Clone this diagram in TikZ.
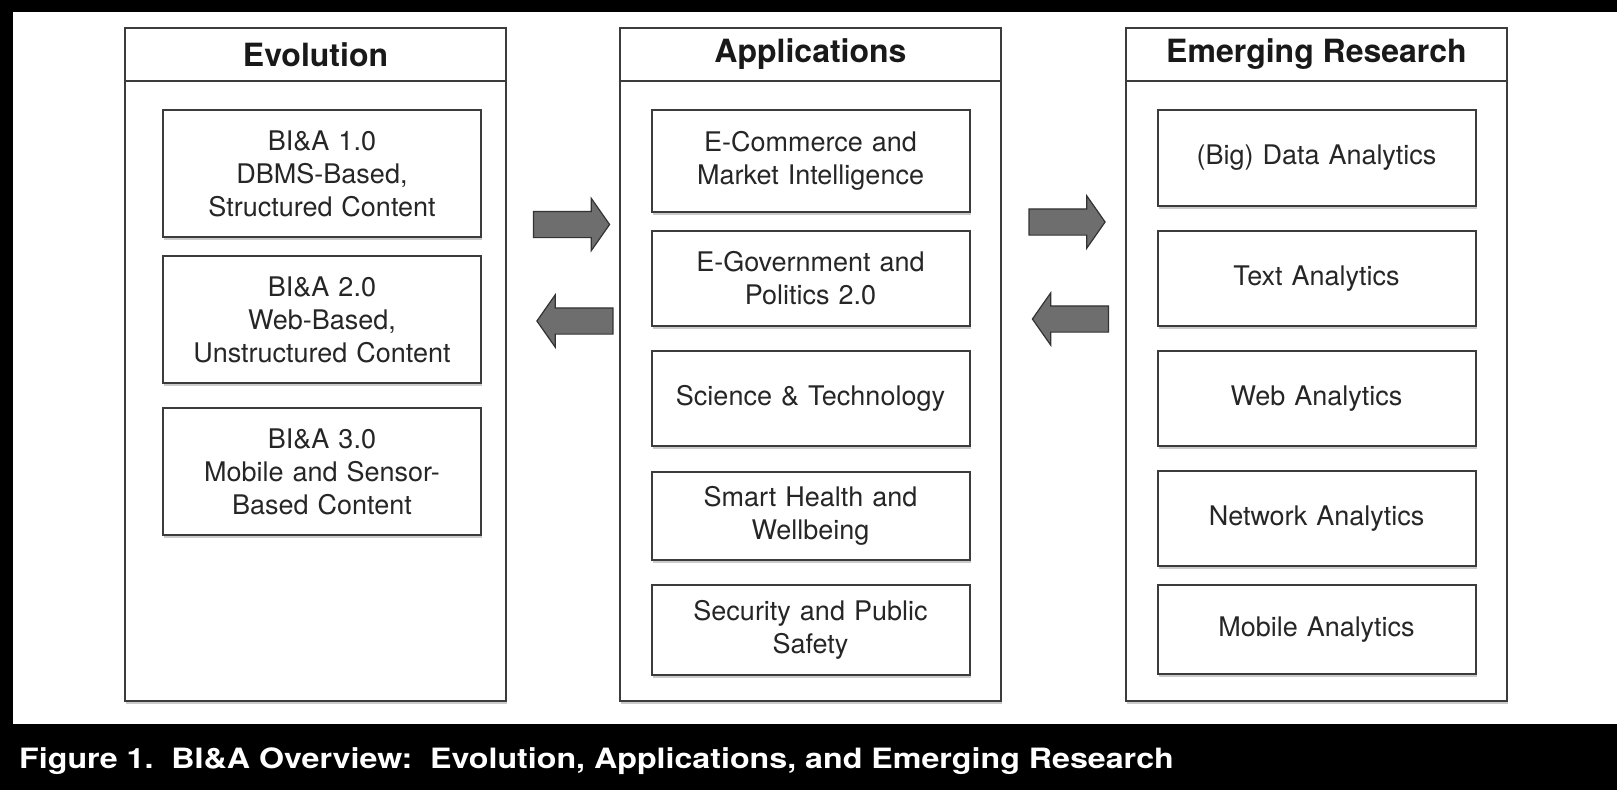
\documentclass[tikz,border=0pt]{standalone}
\usepackage{fontspec}
\setmainfont{TeX Gyre Heros}
\newfontfamily\capfont[FakeStretch=1.15]{TeX Gyre Heros}
\usetikzlibrary{shapes.arrows,shadows}

\definecolor{boxline}{HTML}{3C3C3C}
\definecolor{arrowfill}{HTML}{6E6E6E}

\tikzset{
    colbox/.style={draw=boxline, line width=2pt, fill=white, minimum width=381pt, minimum height=673pt, inner sep=0pt,
        drop shadow={shadow xshift=1pt, shadow yshift=-2.5pt, fill=black!40}},
    itembox/.style={draw=boxline, line width=2pt, fill=white, minimum width=318pt, text width=300pt, align=center, inner sep=0pt,
        font=\fontsize{27}{33}\selectfont, text=black!85,
        drop shadow={shadow xshift=1pt, shadow yshift=-2.5pt, fill=black!40}},
    header/.style={font=\fontsize{32}{36}\selectfont\bfseries, text=black!90},
    blockarrow/.style={single arrow, draw=black!80, fill=arrowfill, line width=1.2pt, minimum height=76pt,
        single arrow head extend=13pt, single arrow head indent=0pt, single arrow tip angle=110,
        inner xsep=0pt, inner ysep=12.5pt}
}

\begin{document}
\begin{tikzpicture}[x=1pt, y=-1pt]
    %a keret: fekete hatter, rajta a feher rajzlap
    \useasboundingbox (0,0) rectangle (1617,790);
    \fill[black] (0,0) rectangle (1617,790);
    \fill[white] (13,12) rectangle (1617,724);

    %a harom oszlop kerete, fejlecvonallal es cimmel
    \node[colbox] (evo) at (315.5,364.5) {};
    \node[colbox] (app) at (810.5,364.5) {};
    \node[colbox] (res) at (1316.5,364.5) {};
    \foreach \c in {evo,app,res}
        \draw[boxline, line width=2pt] (\c.north west |- 0,81) -- (\c.north east |- 0,81);
    \node[header] (evo-h) at (315.5,54.5) {Evolution};
    \node[header] (app-h) at (810.5,54.5) {Applications};
    \node[header] (res-h) at (1316.5,54.5) {Emerging Research};

    %a bal oszlop dobozai
    \node[itembox, minimum height=127pt] (evo1) at (322,173.5) {BI\&A 1.0\\DBMS-Based,\\Structured Content};
    \node[itembox, minimum height=127pt] (evo2) at (322,319.5) {BI\&A 2.0\\Web-Based,\\Unstructured Content};
    \node[itembox, minimum height=127pt] (evo3) at (322,471.5) {BI\&A 3.0\\Mobile and Sensor-\\Based Content};

    %a kozepso oszlop dobozai
    \node[itembox, minimum height=102pt] (app1) at (810.5,161) {E-Commerce and\\Market Intelligence};
    \node[itembox, minimum height=95pt] (app2) at (810.5,278.5) {E-Government and\\Politics 2.0};
    \node[itembox, minimum height=95pt] (app3) at (810.5,398.5) {Science \& Technology};
    \node[itembox, minimum height=88pt] (app4) at (810.5,516) {Smart Health and\\Wellbeing};
    \node[itembox, minimum height=90pt] (app5) at (810.5,630) {Security and Public\\Safety};

    %a jobb oszlop dobozai
    \node[itembox, minimum height=96pt] (res1) at (1316.5,158) {(Big) Data Analytics};
    \node[itembox, minimum height=95pt] (res2) at (1316.5,278.5) {Text Analytics};
    \node[itembox, minimum height=95pt] (res3) at (1316.5,398.5) {Web Analytics};
    \node[itembox, minimum height=95pt] (res4) at (1316.5,518.5) {Network Analytics};
    \node[itembox, minimum height=89pt] (res5) at (1316.5,629.5) {Mobile Analytics};

    %a vastag nyilak az oszlopok kozott
    \node[blockarrow] (evo-app) at (567,224.5) {};
    \node[blockarrow, shape border rotate=180] (app-evo) at (579.5,321) {};
    \node[blockarrow] (app-res) at (1062.5,222) {};
    \node[blockarrow, shape border rotate=180] (res-app) at (1075,319) {};

    %a felirat a fekete savban
    \node[anchor=base west, inner sep=0pt, text=white, font=\capfont\fontsize{28}{32}\selectfont\bfseries] (cap) at (19,768)
        {Figure 1.\ \ BI\&A Overview:\ \ Evolution, Applications, and Emerging Research};
\end{tikzpicture}
\end{document}
